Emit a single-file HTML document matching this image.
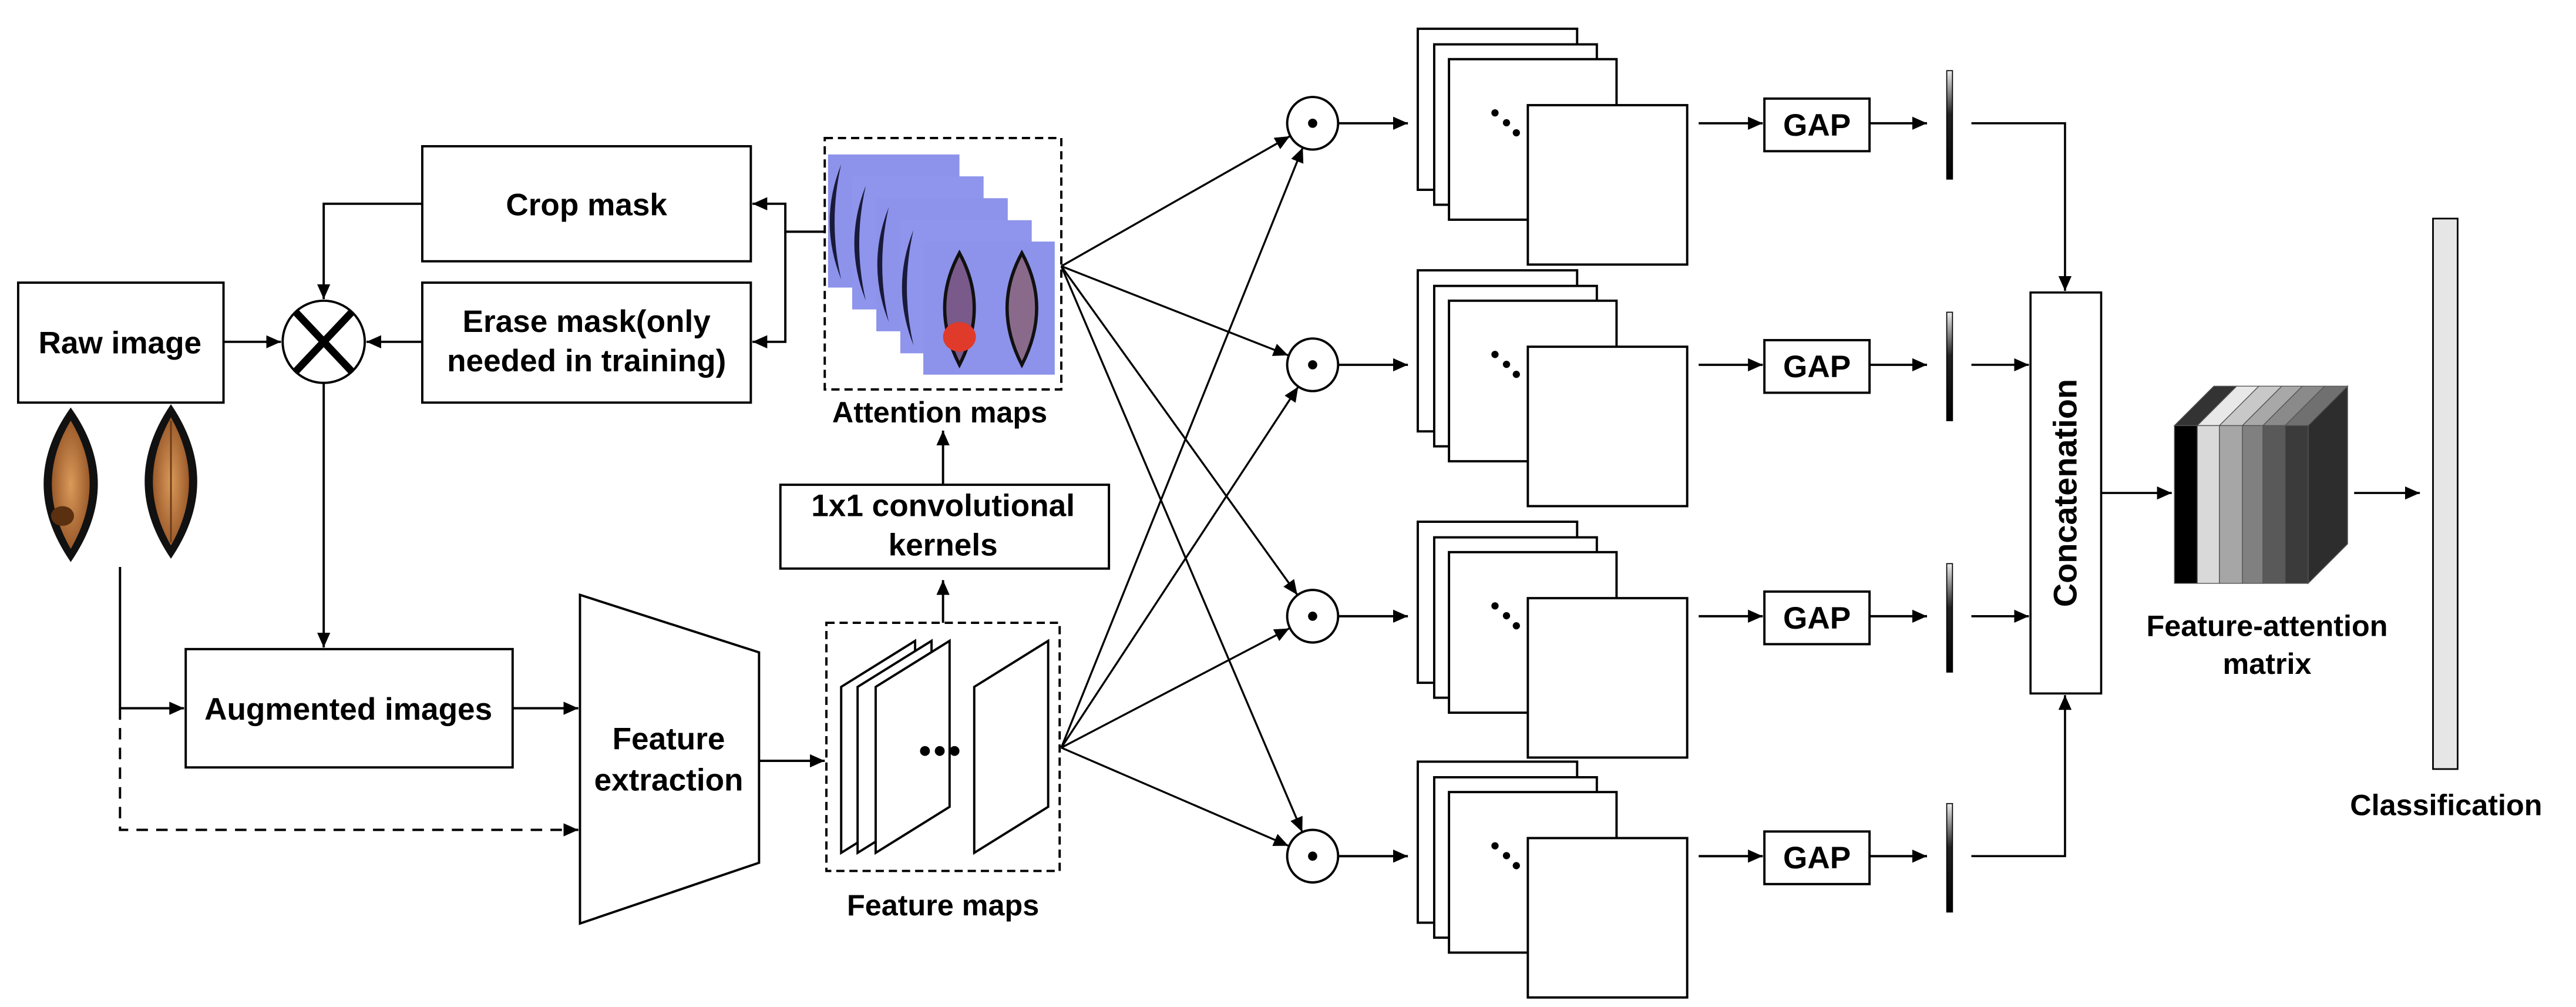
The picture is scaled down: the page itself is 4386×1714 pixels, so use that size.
<!DOCTYPE html>
<html><head><meta charset="utf-8"><style>
html,body{margin:0;padding:0;background:#fff;}
svg{display:block;}
text{font-family:"Liberation Sans",Arial,sans-serif;font-weight:bold;fill:#000;}
</style></head><body>
<svg width="4386" height="1714" viewBox="0 0 1568 612.8" xmlns="http://www.w3.org/2000/svg">
<defs>
<marker id="a" markerUnits="userSpaceOnUse" markerWidth="10" markerHeight="10" refX="9" refY="4" orient="auto"><path d="M0,0 L9,4 L0,8 Z" fill="#000"/></marker>
<linearGradient id="bar" x1="0" y1="0" x2="0" y2="1"><stop offset="0" stop-color="#eee"/><stop offset="0.4" stop-color="#222"/><stop offset="1" stop-color="#000"/></linearGradient>
<radialGradient id="grain" cx="0.5" cy="0.5" r="0.5"><stop offset="0" stop-color="#d99a5a"/><stop offset="1" stop-color="#9b5a2a"/></radialGradient>
</defs>
<g fill="none" stroke="#000" stroke-width="1.4">
<!-- left boxes -->
<rect x="11" y="172" width="125" height="73" fill="#fff"/>
<rect x="257" y="89" width="200" height="70" fill="#fff"/>
<rect x="257" y="172" width="200" height="73" fill="#fff"/>
<ellipse cx="197" cy="208" rx="25" ry="25" fill="#fff"/>
<path d="M180,190 L214,226 M214,190 L180,226" stroke-width="4.5"/>
<path d="M257,124 H197 V182" marker-end="url(#a)"/>
<path d="M136,208 H171" marker-end="url(#a)"/>
<path d="M257,208 H223" marker-end="url(#a)"/>
<path d="M502,141 H478 V124 H458" marker-end="url(#a)"/>
<path d="M478,141 V208 H458" marker-end="url(#a)"/>
<path d="M197,233 V394" marker-end="url(#a)"/>
<rect x="113" y="395" width="199" height="72" fill="#fff"/>
<path d="M73,345 V431 H112" marker-end="url(#a)"/>
<path d="M73,431 V505 H352" stroke-dasharray="7,5" marker-end="url(#a)"/>
<path d="M312,431 H352" marker-end="url(#a)"/>
<path d="M353,362 L462,397 L462,525 L353,562 Z" fill="#fff"/>
<path d="M462,463 H502" marker-end="url(#a)"/>
<!-- feature maps -->
<rect x="503" y="379" width="142" height="151" stroke-dasharray="5,3"/>
<path d="M512,418 L557,390 L557,491 L512,519 Z" fill="#fff"/>
<path d="M522,418 L567,390 L567,491 L522,519 Z" fill="#fff"/>
<path d="M533,418 L578,390 L578,491 L533,519 Z" fill="#fff"/>
<path d="M593,418 L638,390 L638,491 L593,519 Z" fill="#fff"/>
<path d="M574,379 V353" marker-end="url(#a)"/>
<rect x="475" y="295" width="200" height="51" fill="#fff"/>
<path d="M574,295 V262" marker-end="url(#a)"/>
<rect x="502" y="84" width="144" height="153" stroke-dasharray="5,3"/>
</g>
<!-- attention images -->
<g stroke="none">
<rect x="504" y="94" width="80" height="81" fill="#8d93ea"/>
<rect x="518.7" y="107.3" width="80" height="81" fill="#8f95ec"/>
<rect x="533.4" y="120.6" width="80" height="81" fill="#8d93ea"/>
<rect x="548" y="134" width="80" height="81" fill="#8f95ec"/>
<rect x="562" y="147" width="80" height="81" fill="#8d93ea"/>
<g fill="#1a1a3a"><path d="M512,100 Q498,135 512,170 Q504,135 512,100Z"/><path d="M527,113 Q513,148 527,183 Q519,148 527,113Z"/><path d="M541,126 Q527,161 541,196 Q533,161 541,126Z"/><path d="M556,140 Q542,175 556,210 Q548,175 556,140Z"/></g>
<path d="M584,154 Q566,187 584,222 Q602,187 584,154Z" fill="#7a5a8a" stroke="#111" stroke-width="2"/>
<ellipse cx="584" cy="205" rx="10" ry="9" fill="#e03a2a"/>
<path d="M622,154 Q604,187 622,222 Q640,187 622,154Z" fill="#8a6a8a" stroke="#111" stroke-width="2"/>
<!-- grains -->
<path d="M43,248 Q10,294 43,342 Q76,294 43,248Z" fill="#111"/>
<path d="M43,256 Q20,294 43,334 Q66,294 43,256Z" fill="url(#grain)"/>
<ellipse cx="38" cy="314" rx="7" ry="6" fill="#5a3010"/>
<path d="M104,246 Q72,293 104,340 Q136,293 104,246Z" fill="#111"/>
<path d="M104,254 Q82,293 104,332 Q126,293 104,254Z" fill="url(#grain)"/>
<path d="M104,256 V330" stroke="#6a3a18" stroke-width="1"/>
</g>
<circle cx="563" cy="457" r="3"/><circle cx="572" cy="457" r="3"/><circle cx="581" cy="457" r="3"/>
<!-- connectors to circles -->
<g fill="none" stroke="#000" stroke-width="1.2" marker-end="url(#a)">
<path d="M646,162 L785.1,82.9"/><path d="M646,162 L784.1,216.2"/><path d="M646,162 L789.7,362"/><path d="M646,162 L792.7,506.3"/>
<path d="M646,455 L793,89.8"/><path d="M646,455 L790.2,235.4"/><path d="M646,455 L784.8,382.4"/><path d="M646,455 L784.3,514.7"/>
</g>
<!-- rows -->
<g id="row">
<g fill="#fff" stroke="#000" stroke-width="1.4">
<ellipse cx="799" cy="75" rx="15.5" ry="16"/>
<path d="M815,75 H857" fill="none" marker-end="url(#a)"/>
<rect x="863" y="17.5" width="97" height="98"/>
<rect x="873" y="27" width="99" height="97.6"/>
<rect x="882" y="36" width="102" height="97.7"/>
<rect x="930" y="64" width="97" height="97"/>
<path d="M1034,75 H1073" fill="none" marker-end="url(#a)"/>
<rect x="1074" y="60" width="64" height="32"/>
<path d="M1138,75 H1173" fill="none" marker-end="url(#a)"/>
</g>
<circle cx="799" cy="75" r="2.8"/>
<circle cx="910" cy="68.7" r="2.2"/><circle cx="917" cy="74.7" r="2.2"/><circle cx="923" cy="80.8" r="2.2"/>
<rect x="1185" y="43" width="3.5" height="66" fill="url(#bar)" stroke="#000" stroke-width="0.6"/>
<text x="1106" y="82.5" font-size="19" text-anchor="middle">GAP</text>
</g>
<use href="#row" transform="translate(0,147)"/>
<use href="#row" transform="translate(0,300)"/>
<use href="#row" transform="translate(0,446)"/>
<g fill="none" stroke="#000" stroke-width="1.3">
<path d="M1200,75 H1257 V177" marker-end="url(#a)"/>
<path d="M1200,222 H1235" marker-end="url(#a)"/>
<path d="M1200,375 H1235" marker-end="url(#a)"/>
<path d="M1200,521 H1257 V423" marker-end="url(#a)"/>
<rect x="1236" y="178" width="43" height="244" fill="#fff"/>
<path d="M1279,300 H1322" marker-end="url(#a)"/>
<path d="M1433,300 H1473" marker-end="url(#a)"/>
<rect x="1481" y="133" width="15" height="335" fill="#e6e6e6" stroke-width="1"/>
</g>
<!-- cube -->
<g stroke="#555" stroke-width="0.5">
<path d="M1405,259 L1429,235 L1429,331 L1405,355 Z" fill="#2d2d2d"/>
<path d="M1323.6,259 L1347.6,235 L1361.5,235 L1337.5,259 Z" fill="#333"/>
<path d="M1337.5,259 L1361.5,235 L1375,235 L1351,259 Z" fill="#e8e8e8"/>
<path d="M1351,259 L1375,235 L1389,235 L1365,259 Z" fill="#c8c8c8"/>
<path d="M1365,259 L1389,235 L1401.5,235 L1377.5,259 Z" fill="#a8a8a8"/>
<path d="M1377.5,259 L1401.5,235 L1415,235 L1391,259 Z" fill="#8a8a8a"/>
<path d="M1391,259 L1415,235 L1429,235 L1405,259 Z" fill="#707070"/>
<rect x="1323.6" y="259" width="13.9" height="96" fill="#000"/>
<rect x="1337.5" y="259" width="13.5" height="96" fill="#d9d9d9"/>
<rect x="1351" y="259" width="14" height="96" fill="#a6a6a6"/>
<rect x="1365" y="259" width="12.5" height="96" fill="#808080"/>
<rect x="1377.5" y="259" width="13.5" height="96" fill="#595959"/>
<rect x="1391" y="259" width="14" height="96" fill="#3b3b3b"/>
</g>
<!-- text -->
<g font-size="19" text-anchor="middle">
<text x="73" y="215">Raw image</text>
<text x="357" y="131">Crop mask</text>
<text x="357" y="202">Erase mask(only</text>
<text x="357" y="226">needed in training)</text>
<text x="212" y="438">Augmented images</text>
<text x="407" y="456">Feature</text>
<text x="407" y="481">extraction</text>
<text x="574" y="314">1x1 convolutional</text>
<text x="574" y="338">kernels</text>
<text x="572" y="257" font-size="18">Attention maps</text>
<text x="574" y="557" font-size="18">Feature maps</text>
<text x="1380" y="387" font-size="18">Feature-attention</text>
<text x="1380" y="410" font-size="18">matrix</text>
<text x="1489" y="496" font-size="18">Classification</text>
<text transform="translate(1264,300) rotate(-90)" font-size="20">Concatenation</text>
</g>
</svg>
</body></html>
